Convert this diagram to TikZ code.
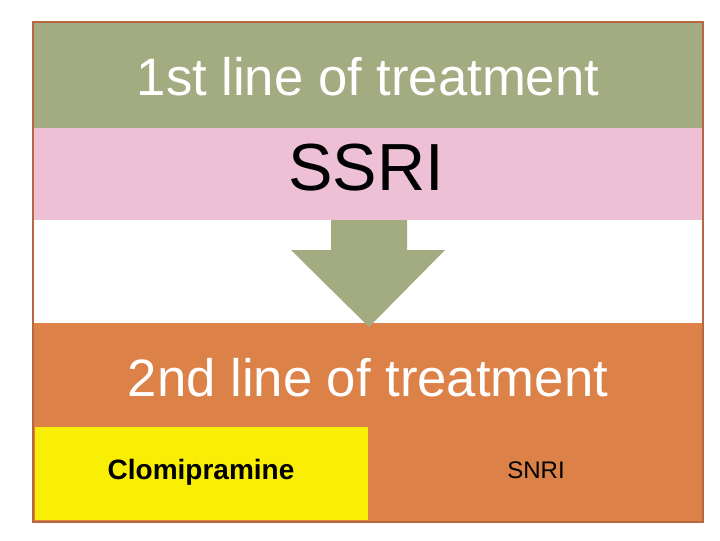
\documentclass[tikz,border=0pt]{standalone}
\usepackage{fontspec}
\setmainfont{Liberation Sans}
\usetikzlibrary{positioning}
\definecolor{olive}{HTML}{A3AC80}
\definecolor{pinkband}{HTML}{EDC0D5}
\definecolor{orangeband}{HTML}{DC8248}
\definecolor{yellowbox}{HTML}{F8EE06}
\definecolor{frame}{HTML}{B8683E}
\tikzset{
  band/.style={inner sep=0pt, outer sep=0pt},
  title/.style={text=white, font=\fontsize{39.5}{44}\selectfont},
}
\begin{document}
\begin{tikzpicture}[x=0.75pt,y=-0.75pt]
\useasboundingbox (0,0) rectangle (720,540);
% bands
\fill[olive] (33,22) rectangle (703,128);
\fill[pinkband] (33,128) rectangle (703,220);
\fill[white] (33,220) rectangle (703,323);
\fill[orangeband] (33,323) rectangle (703,522);
\fill[yellowbox] (35,427) rectangle (368,520);
\draw[frame, line width=1.5pt] (33,22) rectangle (703,522);

% arrow
\fill[olive] (331,220) -- (407,220) -- (407,250) -- (445,250) -- (369,327)
  -- (291,250) -- (331,250) -- cycle;

% texts
\node[title] (first) at (368,77) {1st line of treatment};
\node[font=\fontsize{50}{56}\selectfont] (ssri) at (366,168) {SSRI};
\node[title] (second) at (368,378) {2nd line of treatment};
\node[font=\bfseries\fontsize{21}{25}\selectfont] (clomi) at (201,472) {Clomipramine};
\node[font=\fontsize{18}{21}\selectfont] (snri) at (536,470) {SNRI};
\end{tikzpicture}
\end{document}
